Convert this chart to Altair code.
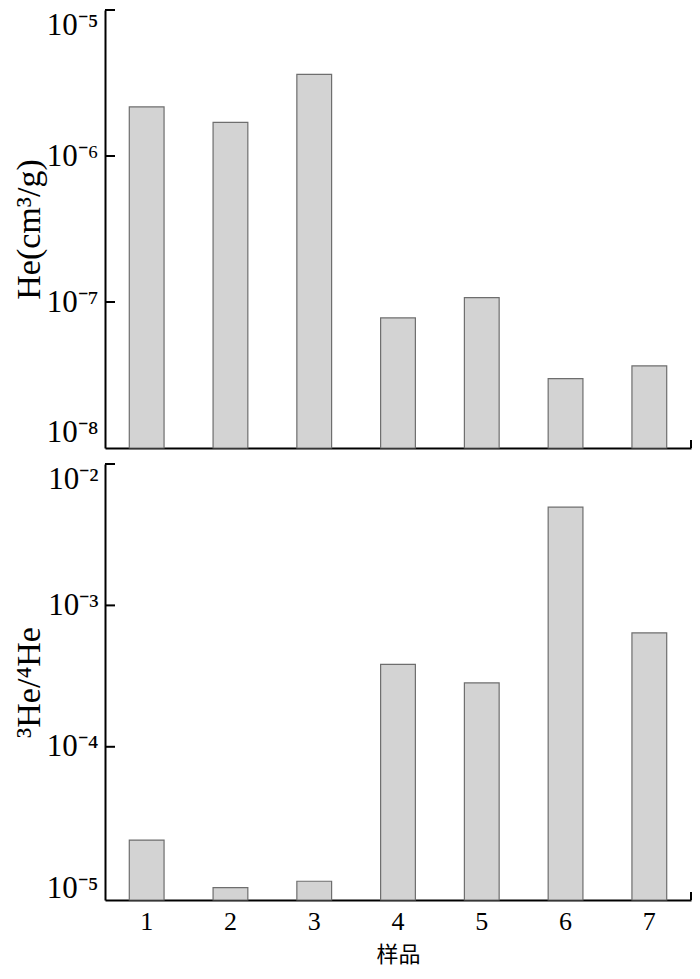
import altair as alt
import pandas as pd

samples = ["1", "2", "3", "4", "5", "6", "7"]
he_conc = [2.17e-6, 1.70e-6, 3.62e-6, 7.78e-8, 1.07e-7, 2.99e-8, 3.65e-8]
he_ratio = [2.19e-5, 1.01e-5, 1.12e-5, 3.83e-4, 2.83e-4, 4.95e-3, 6.39e-4]

top_domain = [1e-8, 1e-5]
bottom_domain = [8.25e-6, 1e-2]
top_axis_values = [1e-8, 1e-7, 1e-6, 1e-5]
bottom_axis_values = [1e-5, 1e-4, 1e-3, 1e-2]
top_tick_values = [1e-7, 1e-6, 1e-5]
bottom_tick_values = [1e-4, 1e-3, 1e-2]

FONT = "Liberation Serif"
CJK = "Noto Sans CJK SC"
W = 586

label_expr = ("'10⁻' + ['⁰','¹','²','³','⁴','⁵','⁶','⁷','⁸','⁹']"
              "[-round(log(datum.value)/LN10)]")


def panel(values, domain, axis_values, tick_values, title, height, top_test,
          bottom_test, xaxis):
    df = pd.DataFrame({"sample": samples, "value": values})
    yscale = alt.Scale(type="log", domain=domain, nice=False)
    yaxis = alt.Axis(
        values=axis_values, ticks=False, grid=False, labelExpr=label_expr,
        labelFont=FONT, labelFontSize=31, labelColor="black", labelPadding=7,
        labelOverlap=False,
        labelBaseline={"condition": [{"test": top_test, "value": "top"},
                                     {"test": bottom_test, "value": "bottom"}],
                       "value": "middle"},
        domainColor="black", domainWidth=2, title=title, titleFont=FONT,
        titleFontSize=34, titleFontWeight="normal", titleColor="black",
        titlePadding=0,
    )
    bars = alt.Chart(df).mark_bar(
        color="#d3d3d3", stroke="#6e6e6e", strokeWidth=1.2
    ).encode(
        x=alt.X("sample:N", sort=samples,
                scale=alt.Scale(paddingInner=0.585, paddingOuter=0.29),
                axis=xaxis),
        y=alt.Y("value:Q", scale=yscale, axis=yaxis),
        y2=alt.datum(domain[0]),
    )
    tdf = pd.DataFrame({"value": tick_values})
    ticks = alt.Chart(tdf).mark_rule(color="black", strokeWidth=2).encode(
        y=alt.Y("value:Q", scale=yscale, axis=yaxis),
        x=alt.value(0), x2=alt.value(10),
    )
    end = alt.Chart(pd.DataFrame({"k": [0]})).mark_rule(
        color="black", strokeWidth=2
    ).encode(x=alt.value(W), y=alt.value(height - 8), y2=alt.value(height))
    return alt.layer(bars, ticks, end).properties(width=W, height=height)


top_xaxis = alt.Axis(labels=False, ticks=False, title=None, domainColor="black",
                     domainWidth=2)
bottom_xaxis = alt.Axis(
    ticks=False, labelAngle=0, labelFont=FONT, labelFontSize=26,
    labelColor="black", labelPadding=8, domainColor="black", domainWidth=2,
    title="样品", titleFont=CJK, titleFontSize=22, titleFontWeight="normal",
    titleColor="black", titlePadding=10,
)

top = panel(he_conc, top_domain, top_axis_values, top_tick_values,
            "He(cm³/g)", 438, "datum.value > 5e-6", "datum.value < 2e-8",
            top_xaxis)
bottom = panel(he_ratio, bottom_domain, bottom_axis_values, bottom_tick_values,
               "³He/⁴He", 436, "datum.value > 5e-3", "datum.value < 1e-9",
               bottom_xaxis)

chart = alt.vconcat(top, bottom, spacing=14).properties(
    padding={"left": 4, "top": 1, "right": 0, "bottom": 6}
).configure_view(stroke=None)

chart.save("out.html", embed_options={"renderer": "svg", "actions": False})
